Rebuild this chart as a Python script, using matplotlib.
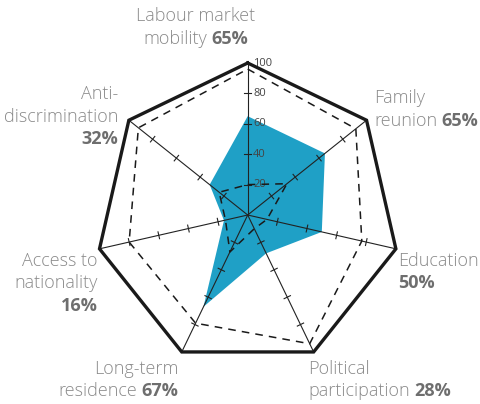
import numpy as np
import matplotlib
matplotlib.use("Agg")
import matplotlib.pyplot as plt
from matplotlib.transforms import IdentityTransform

# axes go clockwise starting from the top
categories = ["Labour market mobility", "Family reunion", "Education",
              "Political participation", "Long-term residence",
              "Access to nationality", "Anti-discrimination"]
score = [65, 65, 50, 28, 67, 16, 32]
dashed_high = [96, 91, 77, 94, 79, 80, 92]
dashed_low = [20, 33, 13, 10, 27, 15, 24]
rings = [20, 40, 60, 80, 100]

# label text: lines of (normal, bold)
label_lines = [
    [("Labour market", ""), ("mobility", "65%")],
    [("Family", ""), ("reunion", "65%")],
    [("Education", ""), ("", "50%")],
    [("Political", ""), ("participation", "28%")],
    [("Long-term", ""), ("residence", "67%")],
    [("Access to", ""), ("nationality", ""), ("", "16%")],
    [("Anti-", ""), ("discrimination", ""), ("", "32%")],
]
# (x px, first baseline px from top, alignment)
label_place = [(196, 21, "center"), (374, 103, "left"), (398, 266, "left"),
               (308, 374, "left"), (178, 374, "right"), (98, 266, "right"),
               (118, 99, "right")]

GREY = "#8a8a8a"
GREY_BOLD = "#6e6e6e"
BLUE = "#1fa0c6"

W, H = 480, 404
fig = plt.figure(figsize=(W / 100, H / 100), dpi=100)
ax = fig.add_axes([0, 0, 1, 1])
scale = 1.52
cx, cy = 247.7, 215
ax.set_xlim(-cx / scale, (W - cx) / scale)
ax.set_ylim(-(H - cy) / scale, cy / scale)
ax.set_aspect("equal")
ax.axis("off")

n = len(categories)
theta = np.pi / 2 - np.arange(n) * 2 * np.pi / n


def xy(vals):
    vals = np.asarray(vals, dtype=float)
    x = vals * np.cos(theta)
    y = vals * np.sin(theta)
    return np.append(x, x[0]), np.append(y, y[0])


x, y = xy(score)
ax.fill(x, y, color=BLUE, lw=0, zorder=1)

# spokes with small cross ticks
for t in theta:
    ax.plot([0, 100 * np.cos(t)], [0, 100 * np.sin(t)], color="#222222", lw=0.8, zorder=2)
    px, py = -np.sin(t), np.cos(t)
    for r in rings[:-1]:
        bx, by = r * np.cos(t), r * np.sin(t)
        ax.plot([bx - 2.3 * px, bx + 2.3 * px], [by - 2.3 * py, by + 2.3 * py],
                color="#222222", lw=0.8, zorder=2)

for r in rings:
    ax.text(3.5, r, str(r), fontsize=8, color="#444444", ha="left", va="center",
            family="Open Sans", zorder=3)

x, y = xy(dashed_low)
ax.plot(x, y, color="#1a1a1a", lw=1.1, ls=(0, (5, 4)), zorder=3)
x, y = xy(dashed_high)
ax.plot(x, y, color="#1a1a1a", lw=1.1, ls=(0, (5, 4)), zorder=3)
x, y = xy([100] * n)
ax.plot(x, y, color="#1a1a1a", lw=2.4, solid_joinstyle="miter", zorder=4)

renderer = fig.canvas.get_renderer()
fs = 13
gap = 4.5


def draw_line(x0, base, parts, ha):
    texts = []
    for txt, bold in parts:
        if not txt:
            continue
        texts.append(fig.text(0, 0, txt, fontsize=fs, family="Open Sans",
                              weight="bold" if bold else "light",
                              color=GREY_BOLD if bold else GREY,
                              transform=IdentityTransform(), va="baseline"))
    widths = [t.get_window_extent(renderer).width for t in texts]
    total = sum(widths) + gap * (len(texts) - 1)
    if ha == "left":
        start = x0
    elif ha == "right":
        start = x0 - total
    else:
        start = x0 - total / 2
    for t, w in zip(texts, widths):
        t.set_position((start, H - base))
        start += w + gap


for lines, (lx, ly, ha) in zip(label_lines, label_place):
    for i, (normal, bold) in enumerate(lines):
        parts = [(normal, False), (bold, True)]
        draw_line(lx, ly + i * 22.5, parts, ha)

fig.savefig("out.png", dpi=100)
